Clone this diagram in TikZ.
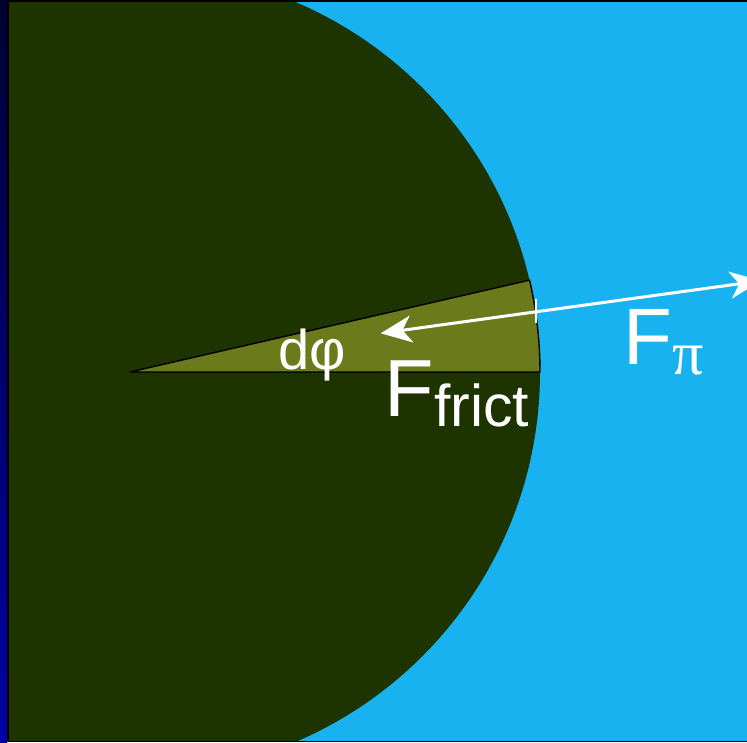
\documentclass[tikz,border=0pt]{standalone}
\usepackage{fontspec}
\setmainfont{Liberation Sans}
\newfontfamily\grserif{Liberation Serif}
\usetikzlibrary{arrows.meta}
\definecolor{bgblue}{RGB}{24,178,240}
\definecolor{discgreen}{RGB}{29,51,0}
\definecolor{wedgeolive}{RGB}{107,122,26}
\definecolor{stripdark}{RGB}{0,0,50}
\definecolor{stripblue}{RGB}{0,0,165}
\tikzset{
  force/.style={white, line width=3pt, -{Stealth[length=31pt,width=27pt,inset=9pt]}},
  lbl/.style={white, inner sep=0pt, anchor=base west},
}
\begin{document}
\begin{tikzpicture}[x=1pt,y=1pt]
\useasboundingbox (0,0) rectangle (747,742);
\clip (0,0) rectangle (747,742);
% background
\fill[bgblue] (0,0) rectangle (747,742);
% disc
\begin{scope}
  \clip (8,1) rectangle (747,739.5);
  \fill[discgreen] (138,370) circle (402);
\end{scope}
% frame edges
\fill[black] (0,739.5) rectangle (747,742);
\fill[black] (0,0) rectangle (747,1);
\shade[top color=stripdark, bottom color=stripblue] (0,0) rectangle (7,742);
\fill[black] (7,0) rectangle (8.5,742);
% wedge
\coordinate (apex) at (130,370);
\filldraw[fill=wedgeolive, draw=black, line width=1.4pt, line join=round]
  (apex) -- (540,370) arc[start angle=0, end angle=12.95, radius=410] -- cycle;
% forces
\coordinate (P) at (536,430.2);
\coordinate (A) at (380.7,408.7);
\coordinate (B) at (761,461.2);
\coordinate (tickT) at (536,442.7);
\coordinate (tickB) at (536,418.7);
\draw[white, line width=2pt] (tickT) -- (tickB);
\draw[force] (P) -- (A);
\draw[force] (P) -- (B);
% labels
\node[lbl] (dphi) at (278,372) {\fontsize{56}{56}\selectfont dφ};
\node[lbl] (ffrict) at (384.5,325) {\fontsize{81}{81}\selectfont F\raisebox{-10pt}{\fontsize{59}{59}\selectfont frict}};
\node[lbl] (fpi) at (623.5,377) {\fontsize{80}{80}\selectfont F\raisebox{-10pt}{\fontsize{62}{62}\selectfont\grserif π}};
\end{tikzpicture}
\end{document}
